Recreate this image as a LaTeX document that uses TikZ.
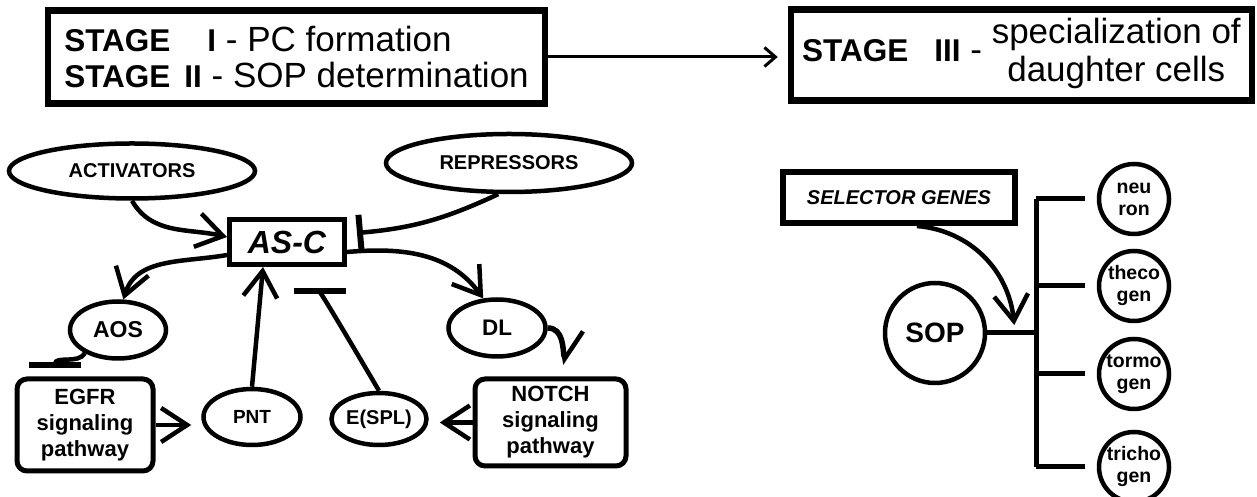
\documentclass[tikz,border=0pt]{standalone}
\usepackage{fontspec}
\setmainfont{Liberation Sans}
\usetikzlibrary{arrows.meta,shapes.geometric}
\def\cellx{1134}
\newcommand{\stg}[1]{{\fontsize{31.5}{36}\selectfont\bfseries #1}}

\begin{document}
\begin{tikzpicture}[x=1pt,y=1pt,line width=4.5pt]
  \tikzstyle{stage}=[draw,line width=6.5pt,inner sep=0pt]
  \tikzstyle{gene}=[ellipse,draw,inner sep=0pt,font=\fontsize{20}{22}\selectfont\bfseries]
  \tikzstyle{pathway}=[draw,line width=5pt,rounded corners=10pt,align=center,font=\fontsize{22}{26}\selectfont\bfseries]
  \tikzstyle{cell}=[circle,draw,inner sep=0pt,minimum size=70pt,align=center,font=\fontsize{19.5}{22}\selectfont\bfseries]
  \tikzstyle{act}=[-{Straight Barb[length=26pt,width=34pt]}]
  \tikzstyle{inh}=[-{Bar[width=52pt,line width=6pt]}]

  \useasboundingbox (0,0) rectangle (1257,497);

  \node[stage,align=left,minimum width=497pt,minimum height=93pt,font=\fontsize{35}{36}\selectfont] (st12) at (296.5,440)
    {\stg{STAGE}\hspace{37pt}\stg{I} - PC formation\\ \stg{STAGE}\hspace{14pt}\stg{II} - SOP determination};
  \node[stage,minimum width=461pt,minimum height=91pt,font=\fontsize{35}{38}\selectfont] (st3) at (1021.5,442)
    {\stg{STAGE}\hspace{26pt}\stg{III} - \begin{tabular}{@{}c@{}}specialization of\\daughter cells\end{tabular}};

  \node[gene,minimum width=246pt,minimum height=55pt] (act) at (132,326) {ACTIVATORS};
  \node[gene,minimum width=246pt,minimum height=58pt] (rep) at (509,334) {REPRESSORS};
  \node[draw,line width=5pt,minimum width=115pt,minimum height=45pt,font=\fontsize{32}{36}\selectfont\bfseries\itshape] (asc) at (287,255) {AS-C};
  \node[gene,minimum width=96pt,minimum height=57pt,font=\fontsize{23}{26}\selectfont\bfseries] (aos) at (118,167) {AOS};
  \node[gene,minimum width=97pt,minimum height=57pt,font=\fontsize{22.5}{26}\selectfont\bfseries] (dl) at (497,169) {DL};
  \node[gene,minimum width=97pt,minimum height=56pt,font=\fontsize{19}{22}\selectfont\bfseries] (pnt) at (252,80) {PNT};
  \node[gene,minimum width=95pt,minimum height=52pt] (espl) at (379,78) {E(SPL)};
  \node[pathway,minimum width=136pt,minimum height=92pt] (egfr) at (85,72) {EGFR\\signaling\\pathway};
  \node[pathway,minimum width=151pt,minimum height=87pt] (notch) at (550.5,74.5) {NOTCH\\signaling\\pathway};

  \node[draw,line width=6pt,minimum width=232pt,minimum height=51pt,font=\fontsize{20}{22}\selectfont\bfseries\itshape] (sel) at (899,299.5) {SELECTOR GENES};
  \node[circle,draw,inner sep=0pt,minimum size=100pt,font=\fontsize{28}{30}\selectfont\bfseries] (sop) at (935,164) {SOP};
  \foreach \name / \y / \txt in {neu/298/{neu\\ron},the/211/{theco\\gen},tor/123/{tormo\\gen},tri/30/{tricho\\gen}}
    \node[cell] (\name) at (\cellx,\y) {\txt};

  % stages
  \draw[line width=3pt,-{Straight Barb[length=11pt,width=19pt]},shorten >=10pt] (st12.east) -- (st12.east -| st3.west);

  % AS-C network
  \draw[act] (act.south) to[out=-60,in=167] ([yshift=5pt]asc.west);
  \draw[-{Bar[width=36pt,line width=6pt]}] (rep.251) to[out=205,in=5] ([xshift=10pt,yshift=9pt]asc.east);
  \draw[act] ([yshift=-13pt]asc.west) to[out=190,in=73] (aos.80);
  \draw[act] ([yshift=-10pt]asc.east) to[out=5,in=126] (dl.115);
  \draw[line width=5.5pt,-{Straight Barb[harpoon,length=24pt,width=46pt,line width=4.5pt]}] (dl.east) to[out=0,in=100] ([xshift=15pt,yshift=12pt]notch.north);
  \draw[inh] (aos.215) to[out=240,in=90] ([xshift=-30pt,yshift=8pt]egfr.north);
  \draw[act,shorten >=10pt] (egfr.east) -- (egfr.east -| pnt.west);
  \draw[act,shorten >=11pt] (notch.west) -- (notch.west -| espl.east);
  \draw[act] (pnt.north) -- ([xshift=-24pt]asc.south);
  \draw[inh] (espl.north) to[out=120,in=-90,looseness=0.05] ([xshift=33pt,yshift=-21pt]asc.south);

  % SOP lineage
  \coordinate (selend) at ([xshift=27pt,yshift=8pt]sop.east);
  \coordinate (fork) at (1036,164);
  \draw[act] ([xshift=18pt]sel.south) to[out=-5,in=96] (selend);
  \draw[line width=5pt] (sop.east) -- (fork);
  \draw[line width=5pt] (fork |- neu.west) -- (fork |- tri.west);
  \foreach \name in {neu,the,tor,tri}
    \draw[line width=5pt,shorten >=12pt] (fork |- \name.west) -- (\name.west);

\end{tikzpicture}
\end{document}
